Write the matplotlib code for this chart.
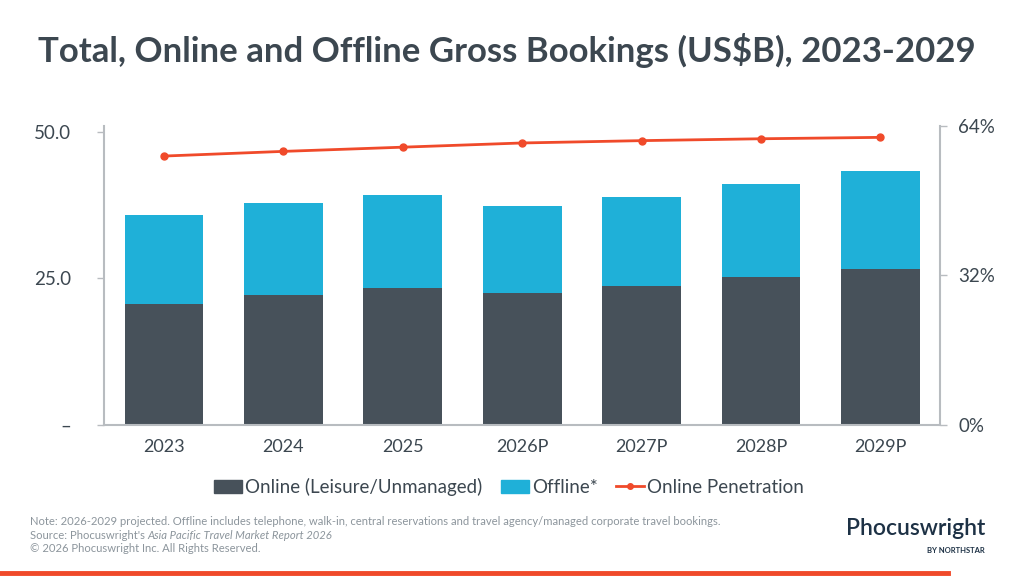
import matplotlib
matplotlib.use("Agg")
import matplotlib.pyplot as plt
from matplotlib.patches import Patch
from matplotlib.lines import Line2D
import numpy as np

years = ["2023", "2024", "2025", "2026P", "2027P", "2028P", "2029P"]
online = [20.6, 22.1, 23.3, 22.5, 23.6, 25.2, 26.6]
offline = [15.2, 15.7, 15.8, 14.8, 15.2, 15.9, 16.6]
penetration = [0.575, 0.585, 0.594, 0.603, 0.608, 0.612, 0.615]
left_ticks = [0, 25, 50]
left_labels = ["–", "25.0", "50.0"]
right_ticks = [0, 0.32, 0.64]
right_labels = ["0%", "32%", "64%"]

DARK = "#47515a"
BLUE = "#1fb0d8"
RED = "#f04a2a"
TEXT = "#3c4750"
AXIS = "#b8bcc0"

plt.rcParams["font.family"] = ["Lato", "DejaVu Sans"]

fig = plt.figure(figsize=(10.24, 5.76), dpi=100)
ax = fig.add_axes([0.1019, 0.2627, 0.8161, 0.5191])
x = np.arange(len(years))
ax.bar(x, online, width=0.66, color=DARK, zorder=2)
ax.bar(x, offline, width=0.66, bottom=online, color=BLUE, zorder=2)
ax.set_xlim(-0.5, 6.5)
ax.set_ylim(0, 51.0)
ax.set_yticks(left_ticks)
ax.set_yticklabels(left_labels)
ax.set_xticks(x)
ax.set_xticklabels(years)
for s in ["top", "right"]:
    ax.spines[s].set_visible(False)
for s in ["left", "bottom"]:
    ax.spines[s].set_color(AXIS)
    ax.spines[s].set_linewidth(1.5)
ax.tick_params(axis="y", colors=AXIS, length=5, width=1, labelcolor=TEXT,
               labelsize=13.5, pad=19)
ax.tick_params(axis="x", length=0, labelcolor=TEXT, labelsize=13, pad=10)

ax2 = ax.twinx()
ax2.plot(x, penetration, color=RED, lw=2, marker="o", ms=5, zorder=3)
ax2.set_ylim(0, 0.64)
ax2.set_yticks(right_ticks)
ax2.set_yticklabels(right_labels)
for s in ["top", "left", "bottom"]:
    ax2.spines[s].set_visible(False)
ax2.spines["right"].set_color(AXIS)
ax2.spines["right"].set_linewidth(1.5)
ax2.tick_params(axis="y", colors=AXIS, length=5, width=1, labelcolor=TEXT,
                labelsize=13.5, pad=8)

fig.text(0.037, 0.892, "Total, Online and Offline Gross Bookings (US$B), 2023-2029",
         fontsize=25, fontweight="bold", color=TEXT, ha="left", va="baseline")

handles = [Patch(color=DARK), Patch(color=BLUE),
           Line2D([0], [0], color=RED, lw=2, marker="o", ms=4)]
labels = ["Online (Leisure/Unmanaged)", "Offline*", "Online Penetration"]
fig.legend(handles, labels, loc="center", bbox_to_anchor=(0.497, 0.155), ncol=3,
           frameon=False, fontsize=13.5, labelcolor=TEXT, handlelength=1.5,
           handletextpad=0.15, columnspacing=1.0, handleheight=0.7)

note_color = "#8c959c"
fs_note = 8.1
fig.text(0.029, 0.088, "Note: 2026-2029 projected. Offline includes telephone, walk-in, central reservations and travel agency/managed corporate travel bookings.",
         fontsize=fs_note, color=note_color, ha="left", va="baseline")
src = fig.text(0.029, 0.064, "Source: Phocuswright's ", fontsize=fs_note,
               color=note_color, ha="left", va="baseline")
fig.canvas.draw()
bb = src.get_window_extent(renderer=fig.canvas.get_renderer())
fig.text(bb.x1 / fig.bbox.width, 0.064, "Asia Pacific Travel Market Report 2026",
         fontsize=fs_note, color=note_color, ha="left", va="baseline", style="italic")
fig.text(0.029, 0.042, "© 2026 Phocuswright Inc. All Rights Reserved.", fontsize=fs_note,
         color=note_color, ha="left", va="baseline")

fig.text(0.962, 0.072, "Phocuswright", fontsize=16.5, color="#1d3145", ha="right",
         va="baseline", fontweight="semibold")
fig.text(0.962, 0.040, "BY NORTHSTAR", fontsize=5.5, color="#1d3145", ha="right",
         va="baseline", fontweight="bold")

fig.add_artist(Line2D([0, 0.926], [0.006, 0.006], transform=fig.transFigure,
                      color=RED, lw=3.5))

fig.savefig("out.png", dpi=100)
